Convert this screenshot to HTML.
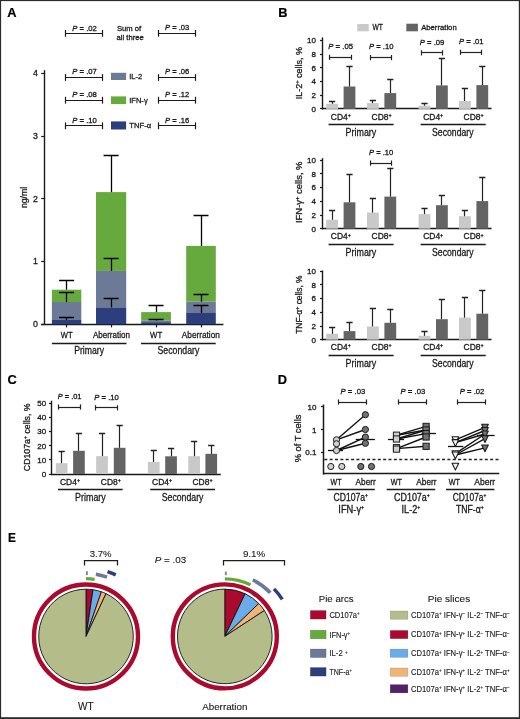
<!DOCTYPE html>
<html><head><meta charset="utf-8"><title>Figure</title>
<style>html,body{margin:0;padding:0;background:#fff;}body{width:520px;height:719px;overflow:hidden;font-family:"Liberation Sans",sans-serif;}svg{display:block;filter:blur(0.3px);}</style>
</head><body>
<svg width="520" height="719" viewBox="0 0 520 719" font-family="&quot;Liberation Sans&quot;, sans-serif">
<rect x="0" y="0" width="520" height="719" fill="#fff"/>
<rect x="0" y="0" width="520" height="1.1" fill="#2b2b2b" />
<rect x="0" y="0" width="1.1" height="719" fill="#2b2b2b" />
<rect x="518.8" y="0" width="1.2" height="719" fill="#2b2b2b" />
<rect x="0" y="717.2" width="520" height="1.8" fill="#2b2b2b" />
<text x="7.3" y="17" font-size="12.8" font-weight="bold" fill="#000" stroke="#000" stroke-width="0.2">A</text>
<line x1="65.9" y1="33.5" x2="102.5" y2="33.5" stroke="#1a1a1a" stroke-width="1.2" />
<line x1="65.5" y1="30" x2="65.5" y2="36.8" stroke="#1a1a1a" stroke-width="1.2" />
<line x1="102.5" y1="30" x2="102.5" y2="36.8" stroke="#1a1a1a" stroke-width="1.2" />
<text x="72.3" y="30.5" font-size="7.74" textLength="24.6" lengthAdjust="spacingAndGlyphs" fill="#1a1a1a" stroke="#1a1a1a" stroke-width="0.3"><tspan font-style="italic">P</tspan> = .02</text>
<line x1="158.5" y1="33.5" x2="195.2" y2="33.5" stroke="#1a1a1a" stroke-width="1.2" />
<line x1="158.5" y1="29.9" x2="158.5" y2="36.7" stroke="#1a1a1a" stroke-width="1.2" />
<line x1="195.5" y1="29.9" x2="195.5" y2="36.7" stroke="#1a1a1a" stroke-width="1.2" />
<text x="165" y="30.4" font-size="7.64" textLength="24.3" lengthAdjust="spacingAndGlyphs" fill="#1a1a1a" stroke="#1a1a1a" stroke-width="0.3"><tspan font-style="italic">P</tspan> = .03</text>
<text x="116.9" y="31.2" font-size="7.67" textLength="24.3" lengthAdjust="spacingAndGlyphs" fill="#1a1a1a" stroke="#1a1a1a" stroke-width="0.3">Sum of</text>
<text x="116.6" y="40.3" font-size="7.62" textLength="27.1" lengthAdjust="spacingAndGlyphs" fill="#1a1a1a" stroke="#1a1a1a" stroke-width="0.3">all three</text>
<line x1="65.9" y1="77.5" x2="102.5" y2="77.5" stroke="#1a1a1a" stroke-width="1.2" />
<line x1="65.5" y1="74.1" x2="65.5" y2="80.9" stroke="#1a1a1a" stroke-width="1.2" />
<line x1="102.5" y1="74.1" x2="102.5" y2="80.9" stroke="#1a1a1a" stroke-width="1.2" />
<text x="72.3" y="74.3" font-size="7.74" textLength="24.6" lengthAdjust="spacingAndGlyphs" fill="#1a1a1a" stroke="#1a1a1a" stroke-width="0.3"><tspan font-style="italic">P</tspan> = .07</text>
<line x1="158.5" y1="77.5" x2="195.2" y2="77.5" stroke="#1a1a1a" stroke-width="1.2" />
<line x1="158.5" y1="74.1" x2="158.5" y2="80.9" stroke="#1a1a1a" stroke-width="1.2" />
<line x1="195.5" y1="74.1" x2="195.5" y2="80.9" stroke="#1a1a1a" stroke-width="1.2" />
<text x="165" y="74.3" font-size="7.64" textLength="24.3" lengthAdjust="spacingAndGlyphs" fill="#1a1a1a" stroke="#1a1a1a" stroke-width="0.3"><tspan font-style="italic">P</tspan> = .06</text>
<line x1="65.9" y1="100.5" x2="102.5" y2="100.5" stroke="#1a1a1a" stroke-width="1.2" />
<line x1="65.5" y1="96.8" x2="65.5" y2="103.6" stroke="#1a1a1a" stroke-width="1.2" />
<line x1="102.5" y1="96.8" x2="102.5" y2="103.6" stroke="#1a1a1a" stroke-width="1.2" />
<text x="72.3" y="97" font-size="7.74" textLength="24.6" lengthAdjust="spacingAndGlyphs" fill="#1a1a1a" stroke="#1a1a1a" stroke-width="0.3"><tspan font-style="italic">P</tspan> = .08</text>
<line x1="158.5" y1="100.5" x2="195.2" y2="100.5" stroke="#1a1a1a" stroke-width="1.2" />
<line x1="158.5" y1="96.8" x2="158.5" y2="103.6" stroke="#1a1a1a" stroke-width="1.2" />
<line x1="195.5" y1="96.8" x2="195.5" y2="103.6" stroke="#1a1a1a" stroke-width="1.2" />
<text x="165" y="97" font-size="7.64" textLength="24.3" lengthAdjust="spacingAndGlyphs" fill="#1a1a1a" stroke="#1a1a1a" stroke-width="0.3"><tspan font-style="italic">P</tspan> = .12</text>
<line x1="65.9" y1="125.5" x2="102.5" y2="125.5" stroke="#1a1a1a" stroke-width="1.2" />
<line x1="65.5" y1="122.4" x2="65.5" y2="129.2" stroke="#1a1a1a" stroke-width="1.2" />
<line x1="102.5" y1="122.4" x2="102.5" y2="129.2" stroke="#1a1a1a" stroke-width="1.2" />
<text x="72.3" y="122.6" font-size="7.74" textLength="24.6" lengthAdjust="spacingAndGlyphs" fill="#1a1a1a" stroke="#1a1a1a" stroke-width="0.3"><tspan font-style="italic">P</tspan> = .10</text>
<line x1="158.5" y1="125.5" x2="195.2" y2="125.5" stroke="#1a1a1a" stroke-width="1.2" />
<line x1="158.5" y1="122.4" x2="158.5" y2="129.2" stroke="#1a1a1a" stroke-width="1.2" />
<line x1="195.5" y1="122.4" x2="195.5" y2="129.2" stroke="#1a1a1a" stroke-width="1.2" />
<text x="165" y="122.6" font-size="7.64" textLength="24.3" lengthAdjust="spacingAndGlyphs" fill="#1a1a1a" stroke="#1a1a1a" stroke-width="0.3"><tspan font-style="italic">P</tspan> = .16</text>
<rect x="111" y="72.8" width="15.1" height="7.2" fill="#6c7a98" />
<text x="129.2" y="79.3" font-size="7.9" textLength="13" lengthAdjust="spacingAndGlyphs" fill="#1a1a1a" stroke="#1a1a1a" stroke-width="0.3">IL-2</text>
<rect x="111" y="96.4" width="15.1" height="7.7" fill="#66aa3d" />
<text x="129.2" y="102.8" font-size="7.9" textLength="18.5" lengthAdjust="spacingAndGlyphs" fill="#1a1a1a" stroke="#1a1a1a" stroke-width="0.3">IFN-γ</text>
<rect x="111" y="121.4" width="15.1" height="8.1" fill="#2c3f7c" />
<text x="129.2" y="128.1" font-size="7.9" textLength="22" lengthAdjust="spacingAndGlyphs" fill="#1a1a1a" stroke="#1a1a1a" stroke-width="0.3">TNF-α</text>
<line x1="44.5" y1="70.2" x2="44.5" y2="324.9" stroke="#1a1a1a" stroke-width="1.4" />
<line x1="41.2" y1="73.5" x2="44.4" y2="73.5" stroke="#1a1a1a" stroke-width="1.2" />
<text x="38" y="76.4" font-size="8.8" text-anchor="end" fill="#1a1a1a" stroke="#1a1a1a" stroke-width="0.3">4</text>
<line x1="41.2" y1="136.5" x2="44.4" y2="136.5" stroke="#1a1a1a" stroke-width="1.2" />
<text x="38" y="139.1" font-size="8.8" text-anchor="end" fill="#1a1a1a" stroke="#1a1a1a" stroke-width="0.3">3</text>
<line x1="41.2" y1="198.5" x2="44.4" y2="198.5" stroke="#1a1a1a" stroke-width="1.2" />
<text x="38" y="201.7" font-size="8.8" text-anchor="end" fill="#1a1a1a" stroke="#1a1a1a" stroke-width="0.3">2</text>
<line x1="41.2" y1="261.5" x2="44.4" y2="261.5" stroke="#1a1a1a" stroke-width="1.2" />
<text x="38" y="264.4" font-size="8.8" text-anchor="end" fill="#1a1a1a" stroke="#1a1a1a" stroke-width="0.3">1</text>
<line x1="41.2" y1="324.5" x2="44.4" y2="324.5" stroke="#1a1a1a" stroke-width="1.2" />
<text x="38" y="327.2" font-size="8.8" text-anchor="end" fill="#1a1a1a" stroke="#1a1a1a" stroke-width="0.3">0</text>
<text x="27.3" y="197.4" font-size="9.8" text-anchor="middle" textLength="21.4" lengthAdjust="spacingAndGlyphs" fill="#1a1a1a" stroke="#1a1a1a" stroke-width="0.3" transform="rotate(-90 27.3 197.4)">ng/ml</text>
<line x1="41" y1="324.5" x2="223.4" y2="324.5" stroke="#1a1a1a" stroke-width="1.4" />
<rect x="51.9" y="289.7" width="29.4" height="12.3" fill="#66aa3d" />
<rect x="51.9" y="302" width="29.4" height="18" fill="#6c7a98" />
<rect x="51.9" y="320" width="29.4" height="4.2" fill="#2c3f7c" />
<line x1="66.5" y1="317.2" x2="66.5" y2="320" stroke="#000" stroke-width="1.3" />
<line x1="59.1" y1="317.5" x2="74.1" y2="317.5" stroke="#000" stroke-width="1.5" />
<line x1="66.5" y1="292.9" x2="66.5" y2="302" stroke="#000" stroke-width="1.3" />
<line x1="59.1" y1="292.5" x2="74.1" y2="292.5" stroke="#000" stroke-width="1.5" />
<line x1="66.5" y1="280" x2="66.5" y2="289.7" stroke="#000" stroke-width="1.3" />
<line x1="59.1" y1="280.5" x2="74.1" y2="280.5" stroke="#000" stroke-width="1.5" />
<rect x="96" y="192.1" width="30.2" height="78.8" fill="#66aa3d" />
<rect x="96" y="270.9" width="30.2" height="36.5" fill="#6c7a98" />
<rect x="96" y="307.4" width="30.2" height="16.8" fill="#2c3f7c" />
<line x1="111.5" y1="298.2" x2="111.5" y2="307.4" stroke="#000" stroke-width="1.3" />
<line x1="103.6" y1="298.5" x2="118.6" y2="298.5" stroke="#000" stroke-width="1.5" />
<line x1="111.5" y1="258.7" x2="111.5" y2="270.9" stroke="#000" stroke-width="1.3" />
<line x1="103.6" y1="258.5" x2="118.6" y2="258.5" stroke="#000" stroke-width="1.5" />
<line x1="111.5" y1="155.7" x2="111.5" y2="192.1" stroke="#000" stroke-width="1.3" />
<line x1="103.6" y1="155.5" x2="118.6" y2="155.5" stroke="#000" stroke-width="1.5" />
<rect x="141.2" y="312.1" width="29.7" height="8.5" fill="#66aa3d" />
<rect x="141.2" y="320.6" width="29.7" height="1.6" fill="#6c7a98" />
<rect x="141.2" y="322.2" width="29.7" height="2" fill="#2c3f7c" />
<line x1="156.5" y1="319.4" x2="156.5" y2="320.6" stroke="#000" stroke-width="1.3" />
<line x1="148.55" y1="319.5" x2="163.55" y2="319.5" stroke="#000" stroke-width="1.5" />
<line x1="156.5" y1="305.3" x2="156.5" y2="312.1" stroke="#000" stroke-width="1.3" />
<line x1="148.55" y1="305.5" x2="163.55" y2="305.5" stroke="#000" stroke-width="1.5" />
<rect x="186.2" y="245.9" width="29.6" height="55.7" fill="#66aa3d" />
<rect x="186.2" y="301.6" width="29.6" height="11.4" fill="#6c7a98" />
<rect x="186.2" y="313" width="29.6" height="11.2" fill="#2c3f7c" />
<line x1="201.5" y1="305.2" x2="201.5" y2="313" stroke="#000" stroke-width="1.3" />
<line x1="193.5" y1="305.5" x2="208.5" y2="305.5" stroke="#000" stroke-width="1.5" />
<line x1="201.5" y1="294.9" x2="201.5" y2="301.6" stroke="#000" stroke-width="1.3" />
<line x1="193.5" y1="294.5" x2="208.5" y2="294.5" stroke="#000" stroke-width="1.5" />
<line x1="201.5" y1="215.6" x2="201.5" y2="245.9" stroke="#000" stroke-width="1.3" />
<line x1="193.5" y1="215.5" x2="208.5" y2="215.5" stroke="#000" stroke-width="1.5" />
<line x1="66.5" y1="324.2" x2="66.5" y2="327.4" stroke="#1a1a1a" stroke-width="1.2" />
<line x1="111.5" y1="324.2" x2="111.5" y2="327.4" stroke="#1a1a1a" stroke-width="1.2" />
<line x1="156.5" y1="324.2" x2="156.5" y2="327.4" stroke="#1a1a1a" stroke-width="1.2" />
<line x1="201.5" y1="324.2" x2="201.5" y2="327.4" stroke="#1a1a1a" stroke-width="1.2" />
<text x="60.8" y="338" font-size="9" textLength="11.8" lengthAdjust="spacingAndGlyphs" fill="#1a1a1a" stroke="#1a1a1a" stroke-width="0.3">WT</text>
<text x="92.9" y="338" font-size="9.01" textLength="37.1" lengthAdjust="spacingAndGlyphs" fill="#1a1a1a" stroke="#1a1a1a" stroke-width="0.3">Aberration</text>
<text x="150.1" y="338" font-size="9" textLength="12.1" lengthAdjust="spacingAndGlyphs" fill="#1a1a1a" stroke="#1a1a1a" stroke-width="0.3">WT</text>
<text x="181.8" y="338" font-size="9.25" textLength="38.1" lengthAdjust="spacingAndGlyphs" fill="#1a1a1a" stroke="#1a1a1a" stroke-width="0.3">Aberration</text>
<line x1="51.9" y1="343.5" x2="126.5" y2="343.5" stroke="#1a1a1a" stroke-width="1.3" />
<line x1="141" y1="343.5" x2="215.7" y2="343.5" stroke="#1a1a1a" stroke-width="1.3" />
<text x="74.2" y="354.4" font-size="10.56" textLength="29.8" lengthAdjust="spacingAndGlyphs" fill="#1a1a1a" stroke="#1a1a1a" stroke-width="0.3">Primary</text>
<text x="157.5" y="354.4" font-size="10.69" textLength="41.9" lengthAdjust="spacingAndGlyphs" fill="#1a1a1a" stroke="#1a1a1a" stroke-width="0.3">Secondary</text>
<text x="278.3" y="17.3" font-size="12.8" font-weight="bold" fill="#000" stroke="#000" stroke-width="0.2">B</text>
<rect x="357.3" y="24" width="11.4" height="7.3" fill="#c9c9c9" />
<text x="372.4" y="30.3" font-size="8.2" textLength="10.4" lengthAdjust="spacingAndGlyphs" fill="#1a1a1a" stroke="#1a1a1a" stroke-width="0.3">WT</text>
<rect x="406.3" y="23.7" width="11.6" height="7.6" fill="#646464" />
<text x="421.2" y="30.3" font-size="7.85" textLength="35.5" lengthAdjust="spacingAndGlyphs" fill="#1a1a1a" stroke="#1a1a1a" stroke-width="0.3">Aberration</text>
<line x1="322.5" y1="37.4" x2="322.5" y2="109.6" stroke="#1a1a1a" stroke-width="1.4" />
<line x1="320" y1="108.5" x2="322.8" y2="108.5" stroke="#1a1a1a" stroke-width="1.2" />
<text x="316" y="111.7" font-size="8" text-anchor="end" fill="#1a1a1a" stroke="#1a1a1a" stroke-width="0.3">0</text>
<line x1="320" y1="95.5" x2="322.8" y2="95.5" stroke="#1a1a1a" stroke-width="1.2" />
<text x="316" y="98.02" font-size="8" text-anchor="end" fill="#1a1a1a" stroke="#1a1a1a" stroke-width="0.3">2</text>
<line x1="320" y1="81.5" x2="322.8" y2="81.5" stroke="#1a1a1a" stroke-width="1.2" />
<text x="316" y="84.34" font-size="8" text-anchor="end" fill="#1a1a1a" stroke="#1a1a1a" stroke-width="0.3">4</text>
<line x1="320" y1="67.5" x2="322.8" y2="67.5" stroke="#1a1a1a" stroke-width="1.2" />
<text x="316" y="70.66" font-size="8" text-anchor="end" fill="#1a1a1a" stroke="#1a1a1a" stroke-width="0.3">6</text>
<line x1="320" y1="54.5" x2="322.8" y2="54.5" stroke="#1a1a1a" stroke-width="1.2" />
<text x="316" y="56.98" font-size="8" text-anchor="end" fill="#1a1a1a" stroke="#1a1a1a" stroke-width="0.3">8</text>
<line x1="320" y1="40.5" x2="322.8" y2="40.5" stroke="#1a1a1a" stroke-width="1.2" />
<text x="316" y="43.3" font-size="8" text-anchor="end" fill="#1a1a1a" stroke="#1a1a1a" stroke-width="0.3">10</text>
<line x1="322.2" y1="108.5" x2="491.5" y2="108.5" stroke="#1a1a1a" stroke-width="1.4" />
<rect x="326.2" y="103.8" width="11.8" height="5.1" fill="#c9c9c9" />
<rect x="343.6" y="86.5" width="11.8" height="22.4" fill="#646464" />
<line x1="332.5" y1="101.2" x2="332.5" y2="103.8" stroke="#222" stroke-width="1.2" />
<line x1="329" y1="101.5" x2="335.2" y2="101.5" stroke="#222" stroke-width="1.5" />
<line x1="349.5" y1="66.2" x2="349.5" y2="86.5" stroke="#222" stroke-width="1.2" />
<line x1="346.4" y1="66.5" x2="352.6" y2="66.5" stroke="#222" stroke-width="1.5" />
<rect x="367" y="103.1" width="11.8" height="5.8" fill="#c9c9c9" />
<rect x="384.4" y="93.1" width="11.8" height="15.8" fill="#646464" />
<line x1="372.5" y1="100.8" x2="372.5" y2="103.1" stroke="#222" stroke-width="1.2" />
<line x1="369.8" y1="100.5" x2="376" y2="100.5" stroke="#222" stroke-width="1.5" />
<line x1="390.5" y1="79.2" x2="390.5" y2="93.1" stroke="#222" stroke-width="1.2" />
<line x1="387.2" y1="79.5" x2="393.4" y2="79.5" stroke="#222" stroke-width="1.5" />
<rect x="418.6" y="105.7" width="11.8" height="3.2" fill="#c9c9c9" />
<rect x="436" y="85.4" width="11.8" height="23.5" fill="#646464" />
<line x1="424.5" y1="103.5" x2="424.5" y2="105.7" stroke="#222" stroke-width="1.2" />
<line x1="421.4" y1="103.5" x2="427.6" y2="103.5" stroke="#222" stroke-width="1.5" />
<line x1="441.5" y1="58.5" x2="441.5" y2="85.4" stroke="#222" stroke-width="1.2" />
<line x1="438.8" y1="58.5" x2="445" y2="58.5" stroke="#222" stroke-width="1.5" />
<rect x="459" y="101" width="11.8" height="7.9" fill="#c9c9c9" />
<rect x="476.4" y="85.1" width="11.8" height="23.8" fill="#646464" />
<line x1="464.5" y1="88.8" x2="464.5" y2="101" stroke="#222" stroke-width="1.2" />
<line x1="461.8" y1="88.5" x2="468" y2="88.5" stroke="#222" stroke-width="1.5" />
<line x1="482.5" y1="66.2" x2="482.5" y2="85.1" stroke="#222" stroke-width="1.2" />
<line x1="479.2" y1="66.5" x2="485.4" y2="66.5" stroke="#222" stroke-width="1.5" />
<line x1="329.7" y1="57.5" x2="351" y2="57.5" stroke="#222" stroke-width="1.2" />
<line x1="329.5" y1="54.7" x2="329.5" y2="59.9" stroke="#222" stroke-width="1.2" />
<line x1="351.5" y1="54.7" x2="351.5" y2="59.9" stroke="#222" stroke-width="1.2" />
<text x="328.3" y="49.1" font-size="7.77" textLength="24.7" lengthAdjust="spacingAndGlyphs" fill="#1a1a1a" stroke="#1a1a1a" stroke-width="0.3"><tspan font-style="italic">P</tspan> = .05</text>
<line x1="370.4" y1="57.5" x2="391.5" y2="57.5" stroke="#222" stroke-width="1.2" />
<line x1="370.5" y1="55" x2="370.5" y2="60.2" stroke="#222" stroke-width="1.2" />
<line x1="391.5" y1="55" x2="391.5" y2="60.2" stroke="#222" stroke-width="1.2" />
<text x="369" y="49.4" font-size="7.71" textLength="24.5" lengthAdjust="spacingAndGlyphs" fill="#1a1a1a" stroke="#1a1a1a" stroke-width="0.3"><tspan font-style="italic">P</tspan> = .10</text>
<line x1="421.2" y1="52.5" x2="442.3" y2="52.5" stroke="#222" stroke-width="1.2" />
<line x1="421.5" y1="50.2" x2="421.5" y2="55.4" stroke="#222" stroke-width="1.2" />
<line x1="442.5" y1="50.2" x2="442.5" y2="55.4" stroke="#222" stroke-width="1.2" />
<text x="419.8" y="44.6" font-size="7.71" textLength="24.5" lengthAdjust="spacingAndGlyphs" fill="#1a1a1a" stroke="#1a1a1a" stroke-width="0.3"><tspan font-style="italic">P</tspan> = .09</text>
<line x1="460.5" y1="52.5" x2="481.5" y2="52.5" stroke="#222" stroke-width="1.2" />
<line x1="460.5" y1="49.7" x2="460.5" y2="54.9" stroke="#222" stroke-width="1.2" />
<line x1="481.5" y1="49.7" x2="481.5" y2="54.9" stroke="#222" stroke-width="1.2" />
<text x="459.1" y="44.1" font-size="7.68" textLength="24.4" lengthAdjust="spacingAndGlyphs" fill="#1a1a1a" stroke="#1a1a1a" stroke-width="0.3"><tspan font-style="italic">P</tspan> = .01</text>
<text x="330.8" y="119.5" font-size="8.3" textLength="20" lengthAdjust="spacingAndGlyphs" fill="#1a1a1a" stroke="#1a1a1a" stroke-width="0.3">CD4<tspan dy="-2.6" font-size="5.2">+</tspan><tspan dy="2.6"></tspan></text>
<text x="371.6" y="119.5" font-size="8.3" textLength="20" lengthAdjust="spacingAndGlyphs" fill="#1a1a1a" stroke="#1a1a1a" stroke-width="0.3">CD8<tspan dy="-2.6" font-size="5.2">+</tspan><tspan dy="2.6"></tspan></text>
<text x="423.2" y="119.5" font-size="8.3" textLength="20" lengthAdjust="spacingAndGlyphs" fill="#1a1a1a" stroke="#1a1a1a" stroke-width="0.3">CD4<tspan dy="-2.6" font-size="5.2">+</tspan><tspan dy="2.6"></tspan></text>
<text x="463.6" y="119.5" font-size="8.3" textLength="20" lengthAdjust="spacingAndGlyphs" fill="#1a1a1a" stroke="#1a1a1a" stroke-width="0.3">CD8<tspan dy="-2.6" font-size="5.2">+</tspan><tspan dy="2.6"></tspan></text>
<line x1="328.6" y1="124.5" x2="393.6" y2="124.5" stroke="#1a1a1a" stroke-width="1.3" />
<line x1="420.6" y1="124.5" x2="485.7" y2="124.5" stroke="#1a1a1a" stroke-width="1.3" />
<text x="345.6" y="135.6" font-size="11.14" textLength="30.7" lengthAdjust="spacingAndGlyphs" fill="#1a1a1a" stroke="#1a1a1a" stroke-width="0.3">Primary</text>
<text x="432.1" y="135.6" font-size="10.83" textLength="41.4" lengthAdjust="spacingAndGlyphs" fill="#1a1a1a" stroke="#1a1a1a" stroke-width="0.3">Secondary</text>
<text x="301.6" y="73.05" font-size="8.6" text-anchor="middle" textLength="52.3" lengthAdjust="spacingAndGlyphs" fill="#1a1a1a" stroke="#1a1a1a" stroke-width="0.3" transform="rotate(-90 301.6 73.05)">IL-2<tspan dy="-2.7" font-size="5.4">+</tspan><tspan dy="2.7"> </tspan>cells, %</text>
<line x1="322.5" y1="158.2" x2="322.5" y2="229.4" stroke="#1a1a1a" stroke-width="1.4" />
<line x1="320" y1="228.5" x2="322.8" y2="228.5" stroke="#1a1a1a" stroke-width="1.2" />
<text x="316" y="231.5" font-size="8" text-anchor="end" fill="#1a1a1a" stroke="#1a1a1a" stroke-width="0.3">0</text>
<line x1="320" y1="215.5" x2="322.8" y2="215.5" stroke="#1a1a1a" stroke-width="1.2" />
<text x="316" y="217.82" font-size="8" text-anchor="end" fill="#1a1a1a" stroke="#1a1a1a" stroke-width="0.3">2</text>
<line x1="320" y1="201.5" x2="322.8" y2="201.5" stroke="#1a1a1a" stroke-width="1.2" />
<text x="316" y="204.14" font-size="8" text-anchor="end" fill="#1a1a1a" stroke="#1a1a1a" stroke-width="0.3">4</text>
<line x1="320" y1="187.5" x2="322.8" y2="187.5" stroke="#1a1a1a" stroke-width="1.2" />
<text x="316" y="190.46" font-size="8" text-anchor="end" fill="#1a1a1a" stroke="#1a1a1a" stroke-width="0.3">6</text>
<line x1="320" y1="173.5" x2="322.8" y2="173.5" stroke="#1a1a1a" stroke-width="1.2" />
<text x="316" y="176.78" font-size="8" text-anchor="end" fill="#1a1a1a" stroke="#1a1a1a" stroke-width="0.3">8</text>
<line x1="320" y1="160.5" x2="322.8" y2="160.5" stroke="#1a1a1a" stroke-width="1.2" />
<text x="316" y="163.1" font-size="8" text-anchor="end" fill="#1a1a1a" stroke="#1a1a1a" stroke-width="0.3">10</text>
<line x1="322.2" y1="228.5" x2="491.5" y2="228.5" stroke="#1a1a1a" stroke-width="1.4" />
<rect x="326.2" y="219.7" width="11.8" height="9" fill="#c9c9c9" />
<rect x="343.6" y="202.3" width="11.8" height="26.4" fill="#646464" />
<line x1="332.5" y1="210" x2="332.5" y2="219.7" stroke="#222" stroke-width="1.2" />
<line x1="329" y1="210.5" x2="335.2" y2="210.5" stroke="#222" stroke-width="1.5" />
<line x1="349.5" y1="174.2" x2="349.5" y2="202.3" stroke="#222" stroke-width="1.2" />
<line x1="346.4" y1="174.5" x2="352.6" y2="174.5" stroke="#222" stroke-width="1.5" />
<rect x="367" y="212.6" width="11.8" height="16.1" fill="#c9c9c9" />
<rect x="384.4" y="196.6" width="11.8" height="32.1" fill="#646464" />
<line x1="372.5" y1="198" x2="372.5" y2="212.6" stroke="#222" stroke-width="1.2" />
<line x1="369.8" y1="198.5" x2="376" y2="198.5" stroke="#222" stroke-width="1.5" />
<line x1="390.5" y1="168.9" x2="390.5" y2="196.6" stroke="#222" stroke-width="1.2" />
<line x1="387.2" y1="168.5" x2="393.4" y2="168.5" stroke="#222" stroke-width="1.5" />
<rect x="418.6" y="214.1" width="11.8" height="14.6" fill="#c9c9c9" />
<rect x="436" y="205.2" width="11.8" height="23.5" fill="#646464" />
<line x1="424.5" y1="208.9" x2="424.5" y2="214.1" stroke="#222" stroke-width="1.2" />
<line x1="421.4" y1="208.5" x2="427.6" y2="208.5" stroke="#222" stroke-width="1.5" />
<line x1="441.5" y1="195.4" x2="441.5" y2="205.2" stroke="#222" stroke-width="1.2" />
<line x1="438.8" y1="195.5" x2="445" y2="195.5" stroke="#222" stroke-width="1.5" />
<rect x="459" y="216.2" width="11.8" height="12.5" fill="#c9c9c9" />
<rect x="476.4" y="201.1" width="11.8" height="27.6" fill="#646464" />
<line x1="464.5" y1="210.1" x2="464.5" y2="216.2" stroke="#222" stroke-width="1.2" />
<line x1="461.8" y1="210.5" x2="468" y2="210.5" stroke="#222" stroke-width="1.5" />
<line x1="482.5" y1="177.7" x2="482.5" y2="201.1" stroke="#222" stroke-width="1.2" />
<line x1="479.2" y1="177.5" x2="485.4" y2="177.5" stroke="#222" stroke-width="1.5" />
<line x1="370.4" y1="163.5" x2="391.3" y2="163.5" stroke="#222" stroke-width="1.2" />
<line x1="370.5" y1="160.5" x2="370.5" y2="165.7" stroke="#222" stroke-width="1.2" />
<line x1="391.5" y1="160.5" x2="391.5" y2="165.7" stroke="#222" stroke-width="1.2" />
<text x="369" y="154.9" font-size="7.64" textLength="24.3" lengthAdjust="spacingAndGlyphs" fill="#1a1a1a" stroke="#1a1a1a" stroke-width="0.3"><tspan font-style="italic">P</tspan> = .10</text>
<text x="330.8" y="239.3" font-size="8.3" textLength="20" lengthAdjust="spacingAndGlyphs" fill="#1a1a1a" stroke="#1a1a1a" stroke-width="0.3">CD4<tspan dy="-2.6" font-size="5.2">+</tspan><tspan dy="2.6"></tspan></text>
<text x="371.6" y="239.3" font-size="8.3" textLength="20" lengthAdjust="spacingAndGlyphs" fill="#1a1a1a" stroke="#1a1a1a" stroke-width="0.3">CD8<tspan dy="-2.6" font-size="5.2">+</tspan><tspan dy="2.6"></tspan></text>
<text x="423.2" y="239.3" font-size="8.3" textLength="20" lengthAdjust="spacingAndGlyphs" fill="#1a1a1a" stroke="#1a1a1a" stroke-width="0.3">CD4<tspan dy="-2.6" font-size="5.2">+</tspan><tspan dy="2.6"></tspan></text>
<text x="463.6" y="239.3" font-size="8.3" textLength="20" lengthAdjust="spacingAndGlyphs" fill="#1a1a1a" stroke="#1a1a1a" stroke-width="0.3">CD8<tspan dy="-2.6" font-size="5.2">+</tspan><tspan dy="2.6"></tspan></text>
<line x1="328.6" y1="244.5" x2="393.6" y2="244.5" stroke="#1a1a1a" stroke-width="1.3" />
<line x1="420.6" y1="244.5" x2="485.7" y2="244.5" stroke="#1a1a1a" stroke-width="1.3" />
<text x="345.6" y="255.8" font-size="11.14" textLength="30.7" lengthAdjust="spacingAndGlyphs" fill="#1a1a1a" stroke="#1a1a1a" stroke-width="0.3">Primary</text>
<text x="432.1" y="255.8" font-size="10.83" textLength="41.4" lengthAdjust="spacingAndGlyphs" fill="#1a1a1a" stroke="#1a1a1a" stroke-width="0.3">Secondary</text>
<text x="301.6" y="192.25" font-size="8.6" text-anchor="middle" textLength="61.5" lengthAdjust="spacingAndGlyphs" fill="#1a1a1a" stroke="#1a1a1a" stroke-width="0.3" transform="rotate(-90 301.6 192.25)">IFN-γ<tspan dy="-2.7" font-size="5.4">+</tspan><tspan dy="2.7"> </tspan>cells, %</text>
<line x1="322.5" y1="270.5" x2="322.5" y2="340.4" stroke="#1a1a1a" stroke-width="1.4" />
<line x1="320" y1="339.5" x2="322.8" y2="339.5" stroke="#1a1a1a" stroke-width="1.2" />
<text x="316" y="342.5" font-size="8" text-anchor="end" fill="#1a1a1a" stroke="#1a1a1a" stroke-width="0.3">0</text>
<line x1="320" y1="326.5" x2="322.8" y2="326.5" stroke="#1a1a1a" stroke-width="1.2" />
<text x="316" y="328.82" font-size="8" text-anchor="end" fill="#1a1a1a" stroke="#1a1a1a" stroke-width="0.3">2</text>
<line x1="320" y1="312.5" x2="322.8" y2="312.5" stroke="#1a1a1a" stroke-width="1.2" />
<text x="316" y="315.14" font-size="8" text-anchor="end" fill="#1a1a1a" stroke="#1a1a1a" stroke-width="0.3">4</text>
<line x1="320" y1="298.5" x2="322.8" y2="298.5" stroke="#1a1a1a" stroke-width="1.2" />
<text x="316" y="301.46" font-size="8" text-anchor="end" fill="#1a1a1a" stroke="#1a1a1a" stroke-width="0.3">6</text>
<line x1="320" y1="284.5" x2="322.8" y2="284.5" stroke="#1a1a1a" stroke-width="1.2" />
<text x="316" y="287.78" font-size="8" text-anchor="end" fill="#1a1a1a" stroke="#1a1a1a" stroke-width="0.3">8</text>
<line x1="320" y1="271.5" x2="322.8" y2="271.5" stroke="#1a1a1a" stroke-width="1.2" />
<text x="316" y="274.1" font-size="8" text-anchor="end" fill="#1a1a1a" stroke="#1a1a1a" stroke-width="0.3">10</text>
<line x1="322.2" y1="339.5" x2="491.5" y2="339.5" stroke="#1a1a1a" stroke-width="1.4" />
<rect x="326.2" y="333.8" width="11.8" height="5.9" fill="#c9c9c9" />
<rect x="343.6" y="331.1" width="11.8" height="8.6" fill="#646464" />
<line x1="332.5" y1="327.2" x2="332.5" y2="333.8" stroke="#222" stroke-width="1.2" />
<line x1="329" y1="327.5" x2="335.2" y2="327.5" stroke="#222" stroke-width="1.5" />
<line x1="349.5" y1="322.6" x2="349.5" y2="331.1" stroke="#222" stroke-width="1.2" />
<line x1="346.4" y1="322.5" x2="352.6" y2="322.5" stroke="#222" stroke-width="1.5" />
<rect x="367" y="326.5" width="11.8" height="13.2" fill="#c9c9c9" />
<rect x="384.4" y="322.8" width="11.8" height="16.9" fill="#646464" />
<line x1="372.5" y1="308.5" x2="372.5" y2="326.5" stroke="#222" stroke-width="1.2" />
<line x1="369.8" y1="308.5" x2="376" y2="308.5" stroke="#222" stroke-width="1.5" />
<line x1="390.5" y1="309.2" x2="390.5" y2="322.8" stroke="#222" stroke-width="1.2" />
<line x1="387.2" y1="309.5" x2="393.4" y2="309.5" stroke="#222" stroke-width="1.5" />
<rect x="418.6" y="335.8" width="11.8" height="3.9" fill="#c9c9c9" />
<rect x="436" y="319.2" width="11.8" height="20.5" fill="#646464" />
<line x1="424.5" y1="331.5" x2="424.5" y2="335.8" stroke="#222" stroke-width="1.2" />
<line x1="421.4" y1="331.5" x2="427.6" y2="331.5" stroke="#222" stroke-width="1.5" />
<line x1="441.5" y1="299.5" x2="441.5" y2="319.2" stroke="#222" stroke-width="1.2" />
<line x1="438.8" y1="299.5" x2="445" y2="299.5" stroke="#222" stroke-width="1.5" />
<rect x="459" y="317.6" width="11.8" height="22.1" fill="#c9c9c9" />
<rect x="476.4" y="313.7" width="11.8" height="26" fill="#646464" />
<line x1="464.5" y1="297.7" x2="464.5" y2="317.6" stroke="#222" stroke-width="1.2" />
<line x1="461.8" y1="297.5" x2="468" y2="297.5" stroke="#222" stroke-width="1.5" />
<line x1="482.5" y1="290.8" x2="482.5" y2="313.7" stroke="#222" stroke-width="1.2" />
<line x1="479.2" y1="290.5" x2="485.4" y2="290.5" stroke="#222" stroke-width="1.5" />
<text x="330.8" y="350" font-size="8.3" textLength="20" lengthAdjust="spacingAndGlyphs" fill="#1a1a1a" stroke="#1a1a1a" stroke-width="0.3">CD4<tspan dy="-2.6" font-size="5.2">+</tspan><tspan dy="2.6"></tspan></text>
<text x="371.6" y="350" font-size="8.3" textLength="20" lengthAdjust="spacingAndGlyphs" fill="#1a1a1a" stroke="#1a1a1a" stroke-width="0.3">CD8<tspan dy="-2.6" font-size="5.2">+</tspan><tspan dy="2.6"></tspan></text>
<text x="423.2" y="350" font-size="8.3" textLength="20" lengthAdjust="spacingAndGlyphs" fill="#1a1a1a" stroke="#1a1a1a" stroke-width="0.3">CD4<tspan dy="-2.6" font-size="5.2">+</tspan><tspan dy="2.6"></tspan></text>
<text x="463.6" y="350" font-size="8.3" textLength="20" lengthAdjust="spacingAndGlyphs" fill="#1a1a1a" stroke="#1a1a1a" stroke-width="0.3">CD8<tspan dy="-2.6" font-size="5.2">+</tspan><tspan dy="2.6"></tspan></text>
<line x1="328.6" y1="355.5" x2="393.6" y2="355.5" stroke="#1a1a1a" stroke-width="1.3" />
<line x1="420.6" y1="355.5" x2="485.7" y2="355.5" stroke="#1a1a1a" stroke-width="1.3" />
<text x="345.6" y="367.1" font-size="11.14" textLength="30.7" lengthAdjust="spacingAndGlyphs" fill="#1a1a1a" stroke="#1a1a1a" stroke-width="0.3">Primary</text>
<text x="432.1" y="367.1" font-size="10.83" textLength="41.4" lengthAdjust="spacingAndGlyphs" fill="#1a1a1a" stroke="#1a1a1a" stroke-width="0.3">Secondary</text>
<text x="301.6" y="304.6" font-size="8.6" text-anchor="middle" textLength="58.4" lengthAdjust="spacingAndGlyphs" fill="#1a1a1a" stroke="#1a1a1a" stroke-width="0.3" transform="rotate(-90 301.6 304.6)">TNF-α<tspan dy="-2.7" font-size="5.4">+</tspan><tspan dy="2.7"> </tspan>cells, %</text>
<text x="7.4" y="383.9" font-size="12.8" font-weight="bold" fill="#000" stroke="#000" stroke-width="0.2">C</text>
<line x1="51.5" y1="400.7" x2="51.5" y2="474.7" stroke="#1a1a1a" stroke-width="1.4" />
<line x1="49" y1="474.5" x2="51.6" y2="474.5" stroke="#1a1a1a" stroke-width="1.2" />
<text x="46.2" y="476.8" font-size="8" text-anchor="end" fill="#1a1a1a" stroke="#1a1a1a" stroke-width="0.3">0</text>
<line x1="49" y1="459.5" x2="51.6" y2="459.5" stroke="#1a1a1a" stroke-width="1.2" />
<text x="46.2" y="462.65" font-size="8" text-anchor="end" fill="#1a1a1a" stroke="#1a1a1a" stroke-width="0.3">10</text>
<line x1="49" y1="445.5" x2="51.6" y2="445.5" stroke="#1a1a1a" stroke-width="1.2" />
<text x="46.2" y="448.5" font-size="8" text-anchor="end" fill="#1a1a1a" stroke="#1a1a1a" stroke-width="0.3">20</text>
<line x1="49" y1="431.5" x2="51.6" y2="431.5" stroke="#1a1a1a" stroke-width="1.2" />
<text x="46.2" y="434.35" font-size="8" text-anchor="end" fill="#1a1a1a" stroke="#1a1a1a" stroke-width="0.3">30</text>
<line x1="49" y1="417.5" x2="51.6" y2="417.5" stroke="#1a1a1a" stroke-width="1.2" />
<text x="46.2" y="420.2" font-size="8" text-anchor="end" fill="#1a1a1a" stroke="#1a1a1a" stroke-width="0.3">40</text>
<line x1="49" y1="403.5" x2="51.6" y2="403.5" stroke="#1a1a1a" stroke-width="1.2" />
<text x="46.2" y="406.05" font-size="8" text-anchor="end" fill="#1a1a1a" stroke="#1a1a1a" stroke-width="0.3">50</text>
<line x1="51" y1="474.5" x2="220.8" y2="474.5" stroke="#1a1a1a" stroke-width="1.4" />
<rect x="55.8" y="463.2" width="11.7" height="10.8" fill="#c9c9c9" />
<line x1="61.5" y1="451.6" x2="61.5" y2="463.2" stroke="#222" stroke-width="1.2" />
<line x1="58.55" y1="451.5" x2="64.75" y2="451.5" stroke="#222" stroke-width="1.5" />
<rect x="73.1" y="450.8" width="11.7" height="23.2" fill="#646464" />
<line x1="78.5" y1="433.5" x2="78.5" y2="450.8" stroke="#222" stroke-width="1.2" />
<line x1="75.85" y1="433.5" x2="82.05" y2="433.5" stroke="#222" stroke-width="1.5" />
<rect x="96.2" y="456.1" width="11.7" height="17.9" fill="#c9c9c9" />
<line x1="102.5" y1="433.9" x2="102.5" y2="456.1" stroke="#222" stroke-width="1.2" />
<line x1="98.95" y1="433.5" x2="105.15" y2="433.5" stroke="#222" stroke-width="1.5" />
<rect x="113.8" y="447.8" width="11.7" height="26.2" fill="#646464" />
<line x1="119.5" y1="425.3" x2="119.5" y2="447.8" stroke="#222" stroke-width="1.2" />
<line x1="116.55" y1="425.5" x2="122.75" y2="425.5" stroke="#222" stroke-width="1.5" />
<rect x="147.9" y="461.9" width="11.7" height="12.1" fill="#c9c9c9" />
<line x1="153.5" y1="450.4" x2="153.5" y2="461.9" stroke="#222" stroke-width="1.2" />
<line x1="150.65" y1="450.5" x2="156.85" y2="450.5" stroke="#222" stroke-width="1.5" />
<rect x="165.2" y="456.3" width="11.7" height="17.7" fill="#646464" />
<line x1="171.5" y1="448.7" x2="171.5" y2="456.3" stroke="#222" stroke-width="1.2" />
<line x1="167.95" y1="448.5" x2="174.15" y2="448.5" stroke="#222" stroke-width="1.5" />
<rect x="188.3" y="456.2" width="11.7" height="17.8" fill="#c9c9c9" />
<line x1="194.5" y1="441.3" x2="194.5" y2="456.2" stroke="#222" stroke-width="1.2" />
<line x1="191.05" y1="441.5" x2="197.25" y2="441.5" stroke="#222" stroke-width="1.5" />
<rect x="205.4" y="453.8" width="11.7" height="20.2" fill="#646464" />
<line x1="211.5" y1="445.8" x2="211.5" y2="453.8" stroke="#222" stroke-width="1.2" />
<line x1="208.15" y1="445.5" x2="214.35" y2="445.5" stroke="#222" stroke-width="1.5" />
<line x1="58" y1="407.5" x2="80.3" y2="407.5" stroke="#222" stroke-width="1.2" />
<line x1="58.5" y1="404.4" x2="58.5" y2="409.6" stroke="#222" stroke-width="1.2" />
<line x1="80.5" y1="404.4" x2="80.5" y2="409.6" stroke="#222" stroke-width="1.2" />
<text x="57.7" y="399.3" font-size="7.49" textLength="23.8" lengthAdjust="spacingAndGlyphs" fill="#1a1a1a" stroke="#1a1a1a" stroke-width="0.3"><tspan font-style="italic">P</tspan> = .01</text>
<line x1="95.4" y1="407.5" x2="117.2" y2="407.5" stroke="#222" stroke-width="1.2" />
<line x1="95.5" y1="405.2" x2="95.5" y2="410.4" stroke="#222" stroke-width="1.2" />
<line x1="117.5" y1="405.2" x2="117.5" y2="410.4" stroke="#222" stroke-width="1.2" />
<text x="94.3" y="399.6" font-size="7.74" textLength="24.6" lengthAdjust="spacingAndGlyphs" fill="#1a1a1a" stroke="#1a1a1a" stroke-width="0.3"><tspan font-style="italic">P</tspan> = .10</text>
<text x="60" y="484.8" font-size="8.3" textLength="20" lengthAdjust="spacingAndGlyphs" fill="#1a1a1a" stroke="#1a1a1a" stroke-width="0.3">CD4<tspan dy="-2.6" font-size="5.2">+</tspan><tspan dy="2.6"></tspan></text>
<text x="100.8" y="484.8" font-size="8.3" textLength="20" lengthAdjust="spacingAndGlyphs" fill="#1a1a1a" stroke="#1a1a1a" stroke-width="0.3">CD8<tspan dy="-2.6" font-size="5.2">+</tspan><tspan dy="2.6"></tspan></text>
<text x="152.1" y="484.8" font-size="8.3" textLength="20" lengthAdjust="spacingAndGlyphs" fill="#1a1a1a" stroke="#1a1a1a" stroke-width="0.3">CD4<tspan dy="-2.6" font-size="5.2">+</tspan><tspan dy="2.6"></tspan></text>
<text x="192.5" y="484.8" font-size="8.3" textLength="20" lengthAdjust="spacingAndGlyphs" fill="#1a1a1a" stroke="#1a1a1a" stroke-width="0.3">CD8<tspan dy="-2.6" font-size="5.2">+</tspan><tspan dy="2.6"></tspan></text>
<line x1="58" y1="489.5" x2="122.6" y2="489.5" stroke="#1a1a1a" stroke-width="1.3" />
<line x1="150.2" y1="489.5" x2="215" y2="489.5" stroke="#1a1a1a" stroke-width="1.3" />
<text x="75.1" y="501.4" font-size="11.14" textLength="30.7" lengthAdjust="spacingAndGlyphs" fill="#1a1a1a" stroke="#1a1a1a" stroke-width="0.3">Primary</text>
<text x="161.7" y="501.4" font-size="10.93" textLength="41.8" lengthAdjust="spacingAndGlyphs" fill="#1a1a1a" stroke="#1a1a1a" stroke-width="0.3">Secondary</text>
<text x="29.8" y="437.3" font-size="8.6" text-anchor="middle" textLength="67.7" lengthAdjust="spacingAndGlyphs" fill="#1a1a1a" stroke="#1a1a1a" stroke-width="0.3" transform="rotate(-90 29.8 437.3)">CD107a<tspan dy="-2.7" font-size="5.4">+</tspan><tspan dy="2.7"> </tspan>cells, %</text>
<text x="277.7" y="383.6" font-size="12.8" font-weight="bold" fill="#000" stroke="#000" stroke-width="0.2">D</text>
<line x1="323.5" y1="404.6" x2="323.5" y2="474.6" stroke="#1a1a1a" stroke-width="1.5" />
<line x1="321" y1="406.5" x2="323.8" y2="406.5" stroke="#1a1a1a" stroke-width="1.2" />
<text x="316.4" y="409.7" font-size="8" text-anchor="end" fill="#1a1a1a" stroke="#1a1a1a" stroke-width="0.3">10</text>
<line x1="321" y1="429.5" x2="323.8" y2="429.5" stroke="#1a1a1a" stroke-width="1.2" />
<text x="316.4" y="432.5" font-size="8" text-anchor="end" fill="#1a1a1a" stroke="#1a1a1a" stroke-width="0.3">1</text>
<line x1="321" y1="452.5" x2="323.8" y2="452.5" stroke="#1a1a1a" stroke-width="1.2" />
<text x="316.4" y="455.1" font-size="8" text-anchor="end" fill="#1a1a1a" stroke="#1a1a1a" stroke-width="0.3">0.1</text>
<line x1="323.2" y1="473.5" x2="499.3" y2="473.5" stroke="#1a1a1a" stroke-width="1.5" />
<line x1="324.3" y1="459.5" x2="499.2" y2="459.5" stroke="#222" stroke-width="1.3" stroke-dasharray="3 2.35"/>
<text x="301.4" y="438.5" font-size="8.6" text-anchor="middle" textLength="47.7" lengthAdjust="spacingAndGlyphs" fill="#1a1a1a" stroke="#1a1a1a" stroke-width="0.3" transform="rotate(-90 301.4 438.5)">% of T cells</text>
<line x1="338.5" y1="402.5" x2="366.5" y2="402.5" stroke="#222" stroke-width="1.2" />
<line x1="338.5" y1="399.4" x2="338.5" y2="404.6" stroke="#222" stroke-width="1.2" />
<line x1="366.5" y1="399.4" x2="366.5" y2="404.6" stroke="#222" stroke-width="1.2" />
<text x="340.6" y="393.9" font-size="7.74" textLength="24.6" lengthAdjust="spacingAndGlyphs" fill="#1a1a1a" stroke="#1a1a1a" stroke-width="0.3"><tspan font-style="italic">P</tspan> = .03</text>
<line x1="398.5" y1="402.5" x2="426.5" y2="402.5" stroke="#222" stroke-width="1.2" />
<line x1="398.5" y1="399.4" x2="398.5" y2="404.6" stroke="#222" stroke-width="1.2" />
<line x1="426.5" y1="399.4" x2="426.5" y2="404.6" stroke="#222" stroke-width="1.2" />
<text x="400.6" y="393.9" font-size="7.74" textLength="24.6" lengthAdjust="spacingAndGlyphs" fill="#1a1a1a" stroke="#1a1a1a" stroke-width="0.3"><tspan font-style="italic">P</tspan> = .03</text>
<line x1="457.7" y1="402.5" x2="485.8" y2="402.5" stroke="#222" stroke-width="1.2" />
<line x1="457.5" y1="399.4" x2="457.5" y2="404.6" stroke="#222" stroke-width="1.2" />
<line x1="485.5" y1="399.4" x2="485.5" y2="404.6" stroke="#222" stroke-width="1.2" />
<text x="459.8" y="393.9" font-size="7.74" textLength="24.6" lengthAdjust="spacingAndGlyphs" fill="#1a1a1a" stroke="#1a1a1a" stroke-width="0.3"><tspan font-style="italic">P</tspan> = .02</text>
<line x1="336.5" y1="439.8" x2="365.4" y2="414.7" stroke="#111" stroke-width="1.4" />
<line x1="336.5" y1="439.8" x2="365.4" y2="429.5" stroke="#111" stroke-width="1.4" />
<line x1="336.5" y1="450.5" x2="365.4" y2="437.1" stroke="#111" stroke-width="1.4" />
<line x1="336.5" y1="450.5" x2="365.4" y2="443.3" stroke="#111" stroke-width="1.4" />
<line x1="328" y1="450.5" x2="343" y2="450.5" stroke="#111" stroke-width="1.3" />
<line x1="355.7" y1="439.5" x2="374.9" y2="439.5" stroke="#111" stroke-width="1.3" />
<circle cx="336.5" cy="439.8" r="3.1" fill="#d0d0d0" stroke="#1a1a1a" stroke-width="1"/>
<circle cx="336.5" cy="443.8" r="3.1" fill="#d0d0d0" stroke="#1a1a1a" stroke-width="1"/>
<circle cx="336.5" cy="450.5" r="3.1" fill="#d0d0d0" stroke="#1a1a1a" stroke-width="1"/>
<circle cx="365.4" cy="414.7" r="3.1" fill="#727272" stroke="#1a1a1a" stroke-width="1"/>
<circle cx="365.4" cy="429.5" r="3.1" fill="#727272" stroke="#1a1a1a" stroke-width="1"/>
<circle cx="365.4" cy="437.1" r="3.1" fill="#727272" stroke="#1a1a1a" stroke-width="1"/>
<circle cx="365.4" cy="443.3" r="3.1" fill="#727272" stroke="#1a1a1a" stroke-width="1"/>
<circle cx="330.8" cy="466.5" r="3.1" fill="#d0d0d0" stroke="#1a1a1a" stroke-width="1"/>
<circle cx="341.8" cy="466.5" r="3.1" fill="#d0d0d0" stroke="#1a1a1a" stroke-width="1"/>
<circle cx="360.8" cy="466.5" r="3.1" fill="#727272" stroke="#1a1a1a" stroke-width="1"/>
<circle cx="371.5" cy="466.5" r="3.1" fill="#727272" stroke="#1a1a1a" stroke-width="1"/>
<line x1="396.5" y1="435.2" x2="426.1" y2="426.4" stroke="#111" stroke-width="1.4" />
<line x1="396.5" y1="435.2" x2="426.1" y2="430" stroke="#111" stroke-width="1.4" />
<line x1="396.5" y1="439" x2="426.1" y2="433.6" stroke="#111" stroke-width="1.4" />
<line x1="396.5" y1="439" x2="426.1" y2="430" stroke="#111" stroke-width="1.4" />
<line x1="396.5" y1="448.6" x2="426.1" y2="437" stroke="#111" stroke-width="1.4" />
<line x1="396.5" y1="448.6" x2="426.1" y2="446.3" stroke="#111" stroke-width="1.4" />
<line x1="388" y1="439.5" x2="404" y2="439.5" stroke="#111" stroke-width="1.3" />
<line x1="421.5" y1="433.5" x2="435.9" y2="433.5" stroke="#111" stroke-width="1.3" />
<rect x="393.4" y="432.1" width="6.2" height="6.2" fill="#d0d0d0" stroke="#1a1a1a" stroke-width="1"/>
<rect x="393.4" y="435.9" width="6.2" height="6.2" fill="#d0d0d0" stroke="#1a1a1a" stroke-width="1"/>
<rect x="393.4" y="444.6" width="6.2" height="6.2" fill="#d0d0d0" stroke="#1a1a1a" stroke-width="1"/>
<rect x="393.4" y="446" width="6.2" height="6.2" fill="#d0d0d0" stroke="#1a1a1a" stroke-width="1"/>
<rect x="423" y="423.3" width="6.2" height="6.2" fill="#727272" stroke="#1a1a1a" stroke-width="1"/>
<rect x="423" y="426.9" width="6.2" height="6.2" fill="#727272" stroke="#1a1a1a" stroke-width="1"/>
<rect x="423" y="430.5" width="6.2" height="6.2" fill="#727272" stroke="#1a1a1a" stroke-width="1"/>
<rect x="423" y="433.9" width="6.2" height="6.2" fill="#727272" stroke="#1a1a1a" stroke-width="1"/>
<rect x="423" y="443.2" width="6.2" height="6.2" fill="#727272" stroke="#1a1a1a" stroke-width="1"/>
<line x1="455.4" y1="439.8" x2="485" y2="427.3" stroke="#111" stroke-width="1.4" />
<line x1="455.4" y1="442.6" x2="485" y2="430.5" stroke="#111" stroke-width="1.4" />
<line x1="455.4" y1="442.6" x2="485" y2="434" stroke="#111" stroke-width="1.4" />
<line x1="455.4" y1="453.7" x2="485" y2="434" stroke="#111" stroke-width="1.4" />
<line x1="455.4" y1="455" x2="485" y2="438.6" stroke="#111" stroke-width="1.4" />
<line x1="455.4" y1="455" x2="485" y2="447.9" stroke="#111" stroke-width="1.4" />
<line x1="448" y1="446.5" x2="463.3" y2="446.5" stroke="#111" stroke-width="1.3" />
<line x1="477" y1="435.5" x2="494.6" y2="435.5" stroke="#111" stroke-width="1.3" />
<polygon points="452.05,436.8 458.75,436.8 455.4,443.7" fill="#f2f2f2" stroke="#1a1a1a" stroke-width="1.05" stroke-linejoin="round"/>
<polygon points="452.05,439.6 458.75,439.6 455.4,446.5" fill="#f2f2f2" stroke="#1a1a1a" stroke-width="1.05" stroke-linejoin="round"/>
<polygon points="452.05,450.7 458.75,450.7 455.4,457.6" fill="#f2f2f2" stroke="#1a1a1a" stroke-width="1.05" stroke-linejoin="round"/>
<polygon points="452.05,452 458.75,452 455.4,458.9" fill="#f2f2f2" stroke="#1a1a1a" stroke-width="1.05" stroke-linejoin="round"/>
<polygon points="481.65,424.3 488.35,424.3 485,431.2" fill="#727272" stroke="#1a1a1a" stroke-width="1.05" stroke-linejoin="round"/>
<polygon points="481.65,427.5 488.35,427.5 485,434.4" fill="#727272" stroke="#1a1a1a" stroke-width="1.05" stroke-linejoin="round"/>
<polygon points="481.65,431 488.35,431 485,437.9" fill="#727272" stroke="#1a1a1a" stroke-width="1.05" stroke-linejoin="round"/>
<polygon points="481.65,435.6 488.35,435.6 485,442.5" fill="#727272" stroke="#1a1a1a" stroke-width="1.05" stroke-linejoin="round"/>
<polygon points="481.65,444.9 488.35,444.9 485,451.8" fill="#727272" stroke="#1a1a1a" stroke-width="1.05" stroke-linejoin="round"/>
<polygon points="452.05,463.2 458.75,463.2 455.4,470.1" fill="#f2f2f2" stroke="#1a1a1a" stroke-width="1.05" stroke-linejoin="round"/>
<text x="330.6" y="484.7" font-size="8.2" textLength="10.9" lengthAdjust="spacingAndGlyphs" fill="#1a1a1a" stroke="#1a1a1a" stroke-width="0.3">WT</text>
<text x="355.6" y="484.7" font-size="9.25" textLength="20.2" lengthAdjust="spacingAndGlyphs" fill="#1a1a1a" stroke="#1a1a1a" stroke-width="0.3">Aberr</text>
<text x="390.8" y="484.7" font-size="8.2" textLength="11.2" lengthAdjust="spacingAndGlyphs" fill="#1a1a1a" stroke="#1a1a1a" stroke-width="0.3">WT</text>
<text x="416.3" y="484.7" font-size="9.25" textLength="20.2" lengthAdjust="spacingAndGlyphs" fill="#1a1a1a" stroke="#1a1a1a" stroke-width="0.3">Aberr</text>
<text x="448.7" y="484.7" font-size="8.2" textLength="11.2" lengthAdjust="spacingAndGlyphs" fill="#1a1a1a" stroke="#1a1a1a" stroke-width="0.3">WT</text>
<text x="474.2" y="484.7" font-size="9.62" textLength="21" lengthAdjust="spacingAndGlyphs" fill="#1a1a1a" stroke="#1a1a1a" stroke-width="0.3">Aberr</text>
<line x1="327.3" y1="489.5" x2="374.8" y2="489.5" stroke="#1a1a1a" stroke-width="1.3" />
<line x1="386.7" y1="489.5" x2="435.2" y2="489.5" stroke="#1a1a1a" stroke-width="1.3" />
<line x1="446" y1="489.5" x2="494.4" y2="489.5" stroke="#1a1a1a" stroke-width="1.3" />
<text x="333.5" y="501.3" font-size="10.1" textLength="34.5" lengthAdjust="spacingAndGlyphs" fill="#1a1a1a" stroke="#1a1a1a" stroke-width="0.3">CD107a<tspan dy="-3.9" font-size="5.8">+</tspan><tspan dy="3.9"></tspan></text>
<text x="338.3" y="512.7" font-size="10.1" textLength="25.9" lengthAdjust="spacingAndGlyphs" fill="#1a1a1a" stroke="#1a1a1a" stroke-width="0.3">IFN-γ<tspan dy="-3.9" font-size="5.8">+</tspan><tspan dy="3.9"></tspan></text>
<text x="394" y="501.3" font-size="10.1" textLength="35.8" lengthAdjust="spacingAndGlyphs" fill="#1a1a1a" stroke="#1a1a1a" stroke-width="0.3">CD107a<tspan dy="-3.9" font-size="5.8">+</tspan><tspan dy="3.9"></tspan></text>
<text x="401.5" y="512.7" font-size="10.1" textLength="18.9" lengthAdjust="spacingAndGlyphs" fill="#1a1a1a" stroke="#1a1a1a" stroke-width="0.3">IL-2<tspan dy="-3.9" font-size="5.8">+</tspan><tspan dy="3.9"></tspan></text>
<text x="452.7" y="501.3" font-size="10.1" textLength="33.7" lengthAdjust="spacingAndGlyphs" fill="#1a1a1a" stroke="#1a1a1a" stroke-width="0.3">CD107a<tspan dy="-3.9" font-size="5.8">+</tspan><tspan dy="3.9"></tspan></text>
<text x="455.9" y="512.7" font-size="10.1" textLength="27.8" lengthAdjust="spacingAndGlyphs" fill="#1a1a1a" stroke="#1a1a1a" stroke-width="0.3">TNF-α<tspan dy="-3.9" font-size="5.8">+</tspan><tspan dy="3.9"></tspan></text>
<text x="8" y="542.4" font-size="12.8" font-weight="bold" textLength="7.9" lengthAdjust="spacingAndGlyphs" fill="#000" stroke="#000" stroke-width="0.2">E</text>
<circle cx="86" cy="636.5" r="52.0" fill="none" stroke="#aa0a2e" stroke-width="4.4"/>
<path d="M86,636.5 L86,589.2 A47.3,47.3 0 0 1 92.99,589.72 Z" fill="#aa0a2e" stroke="#111" stroke-width="0.9" stroke-linejoin="round"/>
<path d="M86,636.5 L92.99,589.72 A47.3,47.3 0 0 1 101.4,591.78 Z" fill="#6aabea" stroke="#111" stroke-width="0.9" stroke-linejoin="round"/>
<path d="M86,636.5 L101.4,591.78 A47.3,47.3 0 0 1 105.99,593.63 Z" fill="#f2b376" stroke="#111" stroke-width="0.9" stroke-linejoin="round"/>
<path d="M86,636.5 L105.99,593.63 A47.3,47.3 0 1 1 86,589.2 Z" fill="#b4bc89" stroke="#111" stroke-width="0.9" stroke-linejoin="round"/>
<path d="M86,578.7 A57.8,57.8 0 0 1 94.64,579.35" fill="none" stroke="#66aa3d" stroke-width="3.3"/>
<path d="M95.86,574.28 A63.0,63.0 0 0 1 107.03,577.11" fill="none" stroke="#6c7a98" stroke-width="3.6"/>
<path d="M107.48,571.56 A68.4,68.4 0 0 1 115.77,574.92" fill="none" stroke="#2c3f7c" stroke-width="3.5"/>
<rect x="85.9" y="571.2" width="1.9" height="3.9" fill="#7d8596" />
<circle cx="224.8" cy="636.4" r="52.0" fill="none" stroke="#aa0a2e" stroke-width="4.4"/>
<path d="M224.8,636.4 L224.8,589.1 A47.3,47.3 0 0 1 245.16,593.71 Z" fill="#aa0a2e" stroke="#111" stroke-width="0.9" stroke-linejoin="round"/>
<path d="M224.8,636.4 L245.16,593.71 A47.3,47.3 0 0 1 258.77,603.48 Z" fill="#6aabea" stroke="#111" stroke-width="0.9" stroke-linejoin="round"/>
<path d="M224.8,636.4 L258.77,603.48 A47.3,47.3 0 0 1 264.38,610.5 Z" fill="#f2b376" stroke="#111" stroke-width="0.9" stroke-linejoin="round"/>
<path d="M224.8,636.4 L264.38,610.5 A47.3,47.3 0 1 1 224.8,589.1 Z" fill="#b4bc89" stroke="#111" stroke-width="0.9" stroke-linejoin="round"/>
<path d="M224.8,578.8 A57.6,57.6 0 0 1 250.5,584.85" fill="none" stroke="#66aa3d" stroke-width="3.3"/>
<path d="M252.81,579.97 A63.0,63.0 0 0 1 270.27,592.79" fill="none" stroke="#6c7a98" stroke-width="3.6"/>
<path d="M274,588.89 A68.4,68.4 0 0 1 282.29,599.35" fill="none" stroke="#2c3f7c" stroke-width="3.5"/>
<rect x="224.9" y="571.6" width="1.9" height="3.6" fill="#7d8596" />
<path d="M84.5,565.4 V560.5 H117.5 V565.4" fill="none" stroke="#1e1e1e" stroke-width="1.25"/>
<text x="89.8" y="556.9" font-size="9.56" textLength="21.8" lengthAdjust="spacingAndGlyphs" fill="#1a1a1a" stroke="#1a1a1a" stroke-width="0.12">3.7%</text>
<path d="M223.5,565.5 V560.5 H284.5 V565.5" fill="none" stroke="#1e1e1e" stroke-width="1.25"/>
<text x="242.9" y="557.2" font-size="9.78" textLength="22.3" lengthAdjust="spacingAndGlyphs" fill="#1a1a1a" stroke="#1a1a1a" stroke-width="0.12">9.1%</text>
<text x="154.8" y="562.9" font-size="9.91" textLength="31.5" lengthAdjust="spacingAndGlyphs" fill="#1a1a1a" stroke="#1a1a1a" stroke-width="0.12"><tspan font-style="italic">P</tspan> = .03</text>
<text x="78.1" y="709.6" font-size="10" textLength="15.6" lengthAdjust="spacingAndGlyphs" fill="#1a1a1a" stroke="#1a1a1a" stroke-width="0.12">WT</text>
<text x="202.2" y="709.8" font-size="9.8" textLength="45.2" lengthAdjust="spacingAndGlyphs" fill="#1a1a1a" stroke="#1a1a1a" stroke-width="0.12">Aberration</text>
<text x="318.8" y="601.7" font-size="9.9" textLength="34.8" lengthAdjust="spacingAndGlyphs" fill="#1a1a1a" stroke="#1a1a1a" stroke-width="0.12">Pie arcs</text>
<text x="427.8" y="601.7" font-size="9.9" textLength="42.4" lengthAdjust="spacingAndGlyphs" fill="#1a1a1a" stroke="#1a1a1a" stroke-width="0.12">Pie slices</text>
<rect x="310.3" y="610.5" width="15.8" height="8.6" fill="#aa0a2e" stroke="rgba(0,0,0,0.22)" stroke-width="0.6"/>
<text x="329.4" y="617.8" font-size="8.4" textLength="30.3" lengthAdjust="spacingAndGlyphs" fill="#1a1a1a" stroke="#1a1a1a" stroke-width="0.12">CD107a<tspan dy="-2.6" font-size="5">+</tspan><tspan dy="2.6"></tspan></text>
<rect x="310.3" y="630.2" width="15.8" height="8.6" fill="#66aa3d" stroke="rgba(0,0,0,0.22)" stroke-width="0.6"/>
<text x="329.4" y="637.5" font-size="8.4" textLength="20.8" lengthAdjust="spacingAndGlyphs" fill="#1a1a1a" stroke="#1a1a1a" stroke-width="0.12">IFN-γ<tspan dy="-2.6" font-size="5">+</tspan><tspan dy="2.6"></tspan></text>
<rect x="310.3" y="649" width="15.8" height="8.6" fill="#6c7a98" stroke="rgba(0,0,0,0.22)" stroke-width="0.6"/>
<text x="329.4" y="656.3" font-size="8.4" textLength="18.2" lengthAdjust="spacingAndGlyphs" fill="#1a1a1a" stroke="#1a1a1a" stroke-width="0.12">IL-2 <tspan dy="-2.6" font-size="5">+</tspan><tspan dy="2.6"></tspan></text>
<rect x="310.3" y="667.5" width="15.8" height="8.6" fill="#2c3f7c" stroke="rgba(0,0,0,0.22)" stroke-width="0.6"/>
<text x="329.4" y="674.8" font-size="8.4" textLength="22.5" lengthAdjust="spacingAndGlyphs" fill="#1a1a1a" stroke="#1a1a1a" stroke-width="0.12">TNF-a<tspan dy="-2.6" font-size="5">+</tspan><tspan dy="2.6"></tspan></text>
<rect x="390.2" y="611" width="17.7" height="8.3" fill="#b4bc89" stroke="rgba(0,0,0,0.2)" stroke-width="0.6"/>
<text x="411" y="618" font-size="8.4" textLength="98.6" lengthAdjust="spacingAndGlyphs" fill="#1a1a1a" stroke="#1a1a1a" stroke-width="0.12">CD107a<tspan dy="-2.6" font-size="5">+</tspan><tspan dy="2.6"> </tspan>IFN-γ<tspan dy="-2.6" font-size="5">−</tspan><tspan dy="2.6"> </tspan>IL-2<tspan dy="-2.6" font-size="5">−</tspan><tspan dy="2.6"> </tspan>TNF-α<tspan dy="-2.6" font-size="5">−</tspan><tspan dy="2.6"></tspan></text>
<rect x="390.2" y="630.4" width="17.7" height="8.3" fill="#aa0a2e" stroke="rgba(0,0,0,0.2)" stroke-width="0.6"/>
<text x="411" y="637.4" font-size="8.4" textLength="98.6" lengthAdjust="spacingAndGlyphs" fill="#1a1a1a" stroke="#1a1a1a" stroke-width="0.12">CD107a<tspan dy="-2.6" font-size="5">+</tspan><tspan dy="2.6"> </tspan>IFN-γ<tspan dy="-2.6" font-size="5">+</tspan><tspan dy="2.6"> </tspan>IL-2<tspan dy="-2.6" font-size="5">−</tspan><tspan dy="2.6"> </tspan>TNF-α<tspan dy="-2.6" font-size="5">−</tspan><tspan dy="2.6"></tspan></text>
<rect x="390.2" y="649.1" width="17.7" height="8.3" fill="#6aabea" stroke="rgba(0,0,0,0.2)" stroke-width="0.6"/>
<text x="411" y="656.1" font-size="8.4" textLength="98.6" lengthAdjust="spacingAndGlyphs" fill="#1a1a1a" stroke="#1a1a1a" stroke-width="0.12">CD107a<tspan dy="-2.6" font-size="5">+</tspan><tspan dy="2.6"> </tspan>IFN-γ<tspan dy="-2.6" font-size="5">−</tspan><tspan dy="2.6"> </tspan>IL-2<tspan dy="-2.6" font-size="5">+</tspan><tspan dy="2.6"> </tspan>TNF-α<tspan dy="-2.6" font-size="5">−</tspan><tspan dy="2.6"></tspan></text>
<rect x="390.2" y="668" width="17.7" height="8.3" fill="#f2b376" stroke="rgba(0,0,0,0.2)" stroke-width="0.6"/>
<text x="411" y="675" font-size="8.4" textLength="98.6" lengthAdjust="spacingAndGlyphs" fill="#1a1a1a" stroke="#1a1a1a" stroke-width="0.12">CD107a<tspan dy="-2.6" font-size="5">+</tspan><tspan dy="2.6"> </tspan>IFN-γ<tspan dy="-2.6" font-size="5">+</tspan><tspan dy="2.6"> </tspan>IL-2<tspan dy="-2.6" font-size="5">−</tspan><tspan dy="2.6"> </tspan>TNF-α<tspan dy="-2.6" font-size="5">+</tspan><tspan dy="2.6"></tspan></text>
<rect x="390.2" y="684.6" width="17.7" height="8.3" fill="#4e2266" stroke="rgba(0,0,0,0.2)" stroke-width="0.6"/>
<text x="411" y="691.6" font-size="8.4" textLength="98.6" lengthAdjust="spacingAndGlyphs" fill="#1a1a1a" stroke="#1a1a1a" stroke-width="0.12">CD107a<tspan dy="-2.6" font-size="5">+</tspan><tspan dy="2.6"> </tspan>IFN-γ<tspan dy="-2.6" font-size="5">+</tspan><tspan dy="2.6"> </tspan>IL-2<tspan dy="-2.6" font-size="5">+</tspan><tspan dy="2.6"> </tspan>TNF-α<tspan dy="-2.6" font-size="5">−</tspan><tspan dy="2.6"></tspan></text>
</svg>
</body></html>
